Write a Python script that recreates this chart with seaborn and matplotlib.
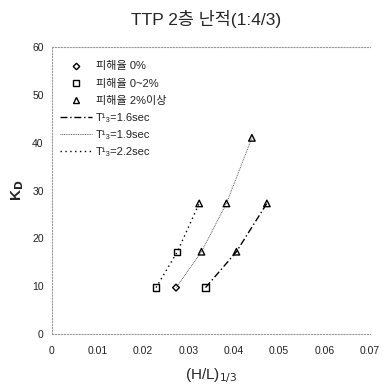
import matplotlib
matplotlib.use("Agg")
import matplotlib.pyplot as plt
from matplotlib.lines import Line2D
import seaborn as sns
import pandas as pd

# ---- data ----
title = "TTP 2층 난적(1:4/3)"
x_ticks = [0, 0.01, 0.02, 0.03, 0.04, 0.05, 0.06, 0.07]
x_tick_labels = ["0", "0.01", "0.02", "0.03", "0.04", "0.05", "0.06", "0.07"]
y_ticks = [0, 10, 20, 30, 40, 50, 60]

# markers by damage ratio
dmg0_x = [0.0273]
dmg0_y = [9.7]
dmg02_x = [0.0229, 0.0276, 0.0338]
dmg02_y = [9.7, 17.2, 9.7]
dmg2p_x = [0.0324, 0.0329, 0.0384, 0.0406, 0.0440, 0.0473]
dmg2p_y = [27.3, 17.2, 27.3, 17.2, 41.0, 27.3]
marker_labels = ["피해율 0%", "피해율 0~2%", "피해율 2%이상"]

# curves by wave period
t16_x = [0.0338, 0.0406, 0.0473]
t16_y = [9.7, 17.2, 27.3]
t19_x = [0.0273, 0.0329, 0.0384, 0.0440]
t19_y = [9.7, 17.2, 27.3, 41.0]
t22_x = [0.0229, 0.0276, 0.0324]
t22_y = [9.7, 17.2, 27.3]
line_labels = ["T¹₃=1.6sec", "T¹₃=1.9sec", "T¹₃=2.2sec"]

# ---- plot ----
sns.set_style("white")
plt.rcParams["font.family"] = ["Liberation Sans", "Noto Sans CJK KR", "DejaVu Sans"]

fig = plt.figure(figsize=(3.85, 3.88), dpi=100)
ax = fig.add_axes([52 / 385, 1 - 334 / 388, 318 / 385, 287 / 388])

line_styles = [
    dict(color="black", linestyle=(0, (5, 2, 1, 2)), linewidth=1.0),
    dict(color="#666666", linestyle=(0, (1, 0.8)), linewidth=0.7),
    dict(color="black", linestyle=(0, (1, 2.5)), linewidth=1.0),
]
for xs, ys, st in zip([t16_x, t19_x, t22_x], [t16_y, t19_y, t22_y], line_styles):
    df = pd.DataFrame({"x": xs, "y": ys})
    sns.lineplot(data=df, x="x", y="y", ax=ax, sort=False, estimator=None, **st)

marker_specs = [("D", 12), ("s", 20), ("^", 22)]
for xs, ys, (m, s) in zip([dmg0_x, dmg02_x, dmg2p_x], [dmg0_y, dmg02_y, dmg2p_y], marker_specs):
    df = pd.DataFrame({"x": xs, "y": ys})
    sns.scatterplot(data=df, x="x", y="y", ax=ax, marker=m, s=s,
                    facecolors="none", edgecolor="black", linewidth=1.0, zorder=5)

ax.set_xlim(0, 0.07)
ax.set_ylim(0, 60)
ax.set_xticks(x_ticks)
ax.set_xticklabels(x_tick_labels)
ax.set_yticks(y_ticks)
ax.tick_params(axis="both", length=0, labelsize=7.5, colors="#222222")
ax.tick_params(axis="x", pad=9)
ax.tick_params(axis="y", pad=6)

for side in ["left", "bottom", "top"]:
    ax.spines[side].set_linestyle(":")
    ax.spines[side].set_color("#999999")
    ax.spines[side].set_linewidth(0.8)
ax.spines["right"].set_visible(False)

ax.set_xlabel("(H/L)$_{1/3}$", fontsize=11, labelpad=7)
ax.set_ylabel("K$_\\mathbf{D}$", fontsize=11, fontweight="bold", labelpad=4)
fig.suptitle(title, fontsize=12.5, x=0.535, y=0.975)

handles = [
    Line2D([], [], marker="D", markersize=3.3, markerfacecolor="none", markeredgecolor="black", linestyle="none"),
    Line2D([], [], marker="s", markersize=4.3, markerfacecolor="none", markeredgecolor="black", linestyle="none"),
    Line2D([], [], marker="^", markersize=4.3, markerfacecolor="none", markeredgecolor="black", linestyle="none"),
    Line2D([], [], **line_styles[0]),
    Line2D([], [], **line_styles[1]),
    Line2D([], [], **line_styles[2]),
]
ax.legend(handles, marker_labels + line_labels, loc="upper left",
          bbox_to_anchor=(0.025, 0.95), frameon=False, fontsize=8,
          handlelength=2.9, handletextpad=0.3, borderpad=0, borderaxespad=0,
          labelspacing=0.64, labelcolor="#222222")

fig.savefig("out.png", dpi=100)
